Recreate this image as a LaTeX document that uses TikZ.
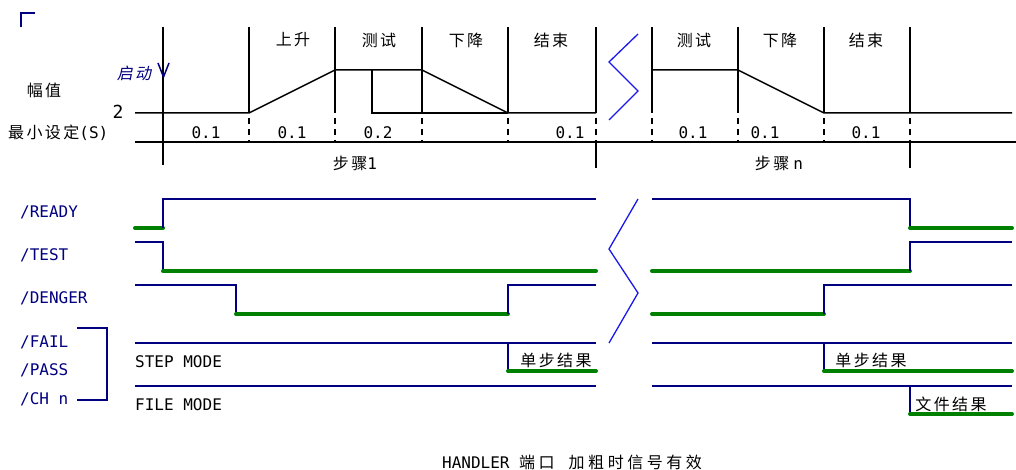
\documentclass[tikz,border=0pt]{standalone}
\usepackage{fontspec}
\setmainfont{DejaVu Sans Mono}
\newfontfamily\cjk[LetterSpace=15]{Noto Sans CJK SC}
\newfontfamily\cjkwide[LetterSpace=22]{Noto Sans CJK SC}
\newfontfamily\cjkslant[LetterSpace=15,FakeSlant=0.2]{Noto Sans CJK SC}
\definecolor{sigline}{RGB}{0,0,128}
\definecolor{lowgreen}{RGB}{0,128,0}
\definecolor{breakblue}{RGB}{25,25,235}
\tikzset{
  wave/.style={line width=1.5pt},
  sig/.style={sigline,line width=1.5pt},
  low/.style={lowgreen,line width=4pt,line cap=round},
  zig/.style={breakblue,line width=1.3pt},
  phase/.style={font=\fontsize{16}{19}\selectfont\cjk},
  signame/.style={anchor=west,text=sigline},
}

\begin{document}
\begin{tikzpicture}[x=1pt,y=-1pt,font=\fontsize{16}{19}\selectfont,inner sep=0pt]
  \useasboundingbox (0,0) rectangle (1016,470);
  \clip (0,0) rectangle (1016,470);
  \draw[sig] (21,27) -- (21,13) -- (35,13);
  % time grid
  \foreach \x in {249,335,422,508,652,738,824} {
    \draw[wave] (\x,27) -- (\x,113);
    \draw[wave,dash pattern=on 6pt off 5pt] (\x,118) -- (\x,142);
  }
  \foreach \x in {596,910} {
    \draw[wave] (\x,27) -- (\x,113);
    \draw[wave,dash pattern=on 6pt off 5pt] (\x,118) -- (\x,142);
    \draw[wave] (\x,142) -- (\x,168);
  }
  \draw[wave] (163,27) -- (163,165);
  \draw[wave,->] (135,142) -- (1022,142);
  % amplitude
  \draw[wave] (135,113) -- (249,113) -- (335,70) -- (422,70) -- (508,113) -- (596,113);
  \draw[wave] (372,70) -- (372,113) -- (508,113);
  \draw[wave] (652,70) -- (738,70) -- (824,113) -- (1012,113);
  \draw[zig] (638,34) -- (609,62) -- (638,91) -- (609,120);
  \draw[sig] (158,63) -- (163.5,77) -- (169,63);
  \node[text=sigline,font=\fontsize{16}{19}\selectfont\cjkslant] (start) at (134,73) {启动};
  \node[phase] (amp) at (44,90) {幅值};
  \node[font=\fontsize{18}{20}\selectfont] (two) at (118,112) {2};
  \node[anchor=west] (minset) at (8,133) {{\cjk 最小设定}(S)};
  \node[phase] (up1) at (293,40) {上升};
  \node[phase] (test1) at (379,40) {测试};
  \node[phase] (down1) at (466,40) {下降};
  \node[phase] (end1) at (551,40) {结束};
  \node[phase] (testn) at (694,40) {测试};
  \node[phase] (downn) at (780,40) {下降};
  \node[phase] (endn) at (866,40) {结束};
  \node (t1) at (206,133) {0.1};
  \node (t2) at (292,133) {0.1};
  \node (t3) at (378,133) {0.2};
  \node (t4) at (570,133) {0.1};
  \node (t5) at (693,133) {0.1};
  \node (t6) at (765,133) {0.1};
  \node (t7) at (866,133) {0.1};
  \node (step1) at (355,163) {{\cjk 步骤}1};
  \node (stepn) at (779,163) {{\cjk 步骤}\hspace{4pt}n};
  % handler signals
  \node[signame] (ready) at (20,212) {/READY};
  \node[signame] (test) at (20,255) {/TEST};
  \node[signame] (denger) at (20,298) {/DENGER};
  \node[signame] (fail) at (20,342) {/FAIL};
  \node[signame] (pass) at (20,370) {/PASS};
  \node[signame] (chn) at (20,399) {/CH n};
  \draw[sig] (77,328) -- (107,328) -- (107,400) -- (77,400);
  \draw[low] (135,228) -- (163,228);
  \draw[sig] (163,228) -- (163,199) -- (596,199);
  \draw[sig] (652,199) -- (910,199) -- (910,228);
  \draw[low] (910,228) -- (1012,228);
  \draw[sig] (135,242) -- (163,242) -- (163,271);
  \draw[low] (163,271) -- (596,271);
  \draw[low] (652,271) -- (910,271);
  \draw[sig] (910,271) -- (910,242) -- (1012,242);
  \draw[sig] (135,285) -- (236,285) -- (236,314);
  \draw[low] (236,314) -- (508,314);
  \draw[sig] (508,314) -- (508,285) -- (596,285);
  \draw[low] (652,314) -- (824,314);
  \draw[sig] (824,314) -- (824,285) -- (1012,285);
  \draw[zig] (638,199) -- (609,249) -- (638,293) -- (609,343);
  \node[anchor=west] (stepmode) at (135,362) {STEP MODE};
  \node[anchor=west] (filemode) at (135,405) {FILE MODE};
  \draw[sig] (135,343) -- (596,343);
  \draw[sig] (652,343) -- (1012,343);
  \draw[sig] (508,343) -- (508,371);
  \draw[low] (508,371) -- (596,371);
  \draw[sig] (824,343) -- (824,371);
  \draw[low] (824,371) -- (1012,371);
  \draw[sig] (135,386) -- (596,386);
  \draw[sig] (652,386) -- (1012,386);
  \draw[sig] (910,386) -- (910,414);
  \draw[low] (910,414) -- (1012,414);
  \node[phase] (stepres1) at (556,360) {单步结果};
  \node[phase] (stepresn) at (871,360) {单步结果};
  \node[phase] (fileres) at (951,404) {文件结果};
  \node (caption) at (572,462) {HANDLER {\cjkwide 端口}\hspace{14pt}{\cjkwide 加粗时信号有效}};
\end{tikzpicture}
\end{document}
